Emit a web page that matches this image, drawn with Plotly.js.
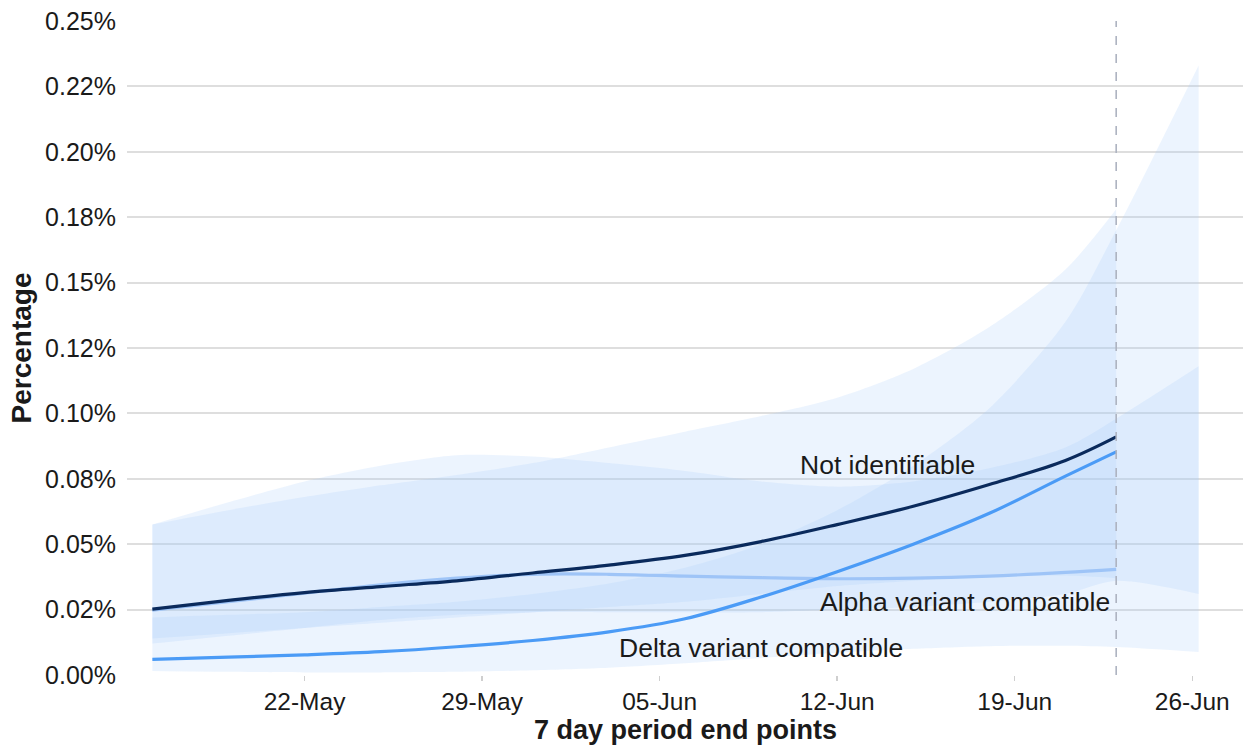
<!DOCTYPE html>
<html>
<head>
<meta charset="utf-8">
<script src="https://cdn.plot.ly/plotly-3.0.1.min.js"></script>
<style>html,body{margin:0;padding:0;background:#fff;}#chart{width:1243px;height:747px;}</style>
</head>
<body>
<div id="chart"></div>
<script>
// ---- data (percent values) ----
var dates = ['2021-05-16','2021-05-19','2021-05-22','2021-05-25','2021-05-28','2021-05-31','2021-06-03','2021-06-06','2021-06-09','2021-06-12','2021-06-15','2021-06-18','2021-06-21','2021-06-23'];
var bandDatesExt = dates.concat(['2021-06-26 06:00']);

var notIdentifiable = [0.0252,0.0285,0.0315,0.0338,0.0360,0.0390,0.0420,0.0457,0.0510,0.0575,0.0645,0.0728,0.0820,0.0910];
var deltaCompat     = [0.0060,0.0068,0.0077,0.0089,0.0108,0.0132,0.0165,0.0215,0.0298,0.0395,0.0500,0.0618,0.0760,0.0853];
var alphaCompat     = [0.0248,0.0280,0.0313,0.0345,0.0370,0.0385,0.0385,0.0378,0.0372,0.0368,0.0370,0.0378,0.0392,0.0404];

var nUpper = [0.0575,0.0630,0.0680,0.0725,0.0765,0.0810,0.0870,0.0930,0.0990,0.1060,0.1170,0.1330,0.1550,0.1780];
var nLower = [0.0140,0.0160,0.0180,0.0200,0.0220,0.0240,0.0260,0.0280,0.0310,0.0340,0.0360,0.0380,0.0380,0.0370];

var dUpper = [0.0220,0.0230,0.0240,0.0260,0.0280,0.0310,0.0350,0.0410,0.0500,0.0630,0.0800,0.1020,0.1350,0.1700,0.2330];
var dLower = [0.0015,0.0012,0.0010,0.0010,0.0012,0.0018,0.0028,0.0045,0.0065,0.0085,0.0100,0.0110,0.0112,0.0107,0.0088];

var aUpper = [0.0575,0.0660,0.0740,0.0800,0.0840,0.0835,0.0810,0.0780,0.0740,0.0720,0.0740,0.0790,0.0870,0.0980,0.1180];
var aLower = [0.0120,0.0150,0.0180,0.0210,0.0230,0.0240,0.0240,0.0240,0.0240,0.0250,0.0260,0.0280,0.0310,0.0360,0.0310];

var yTickVals = [0,0.025,0.05,0.075,0.1,0.125,0.15,0.175,0.2,0.225,0.25];
var yTickText = ['0.00%','0.02%','0.05%','0.08%','0.10%','0.12%','0.15%','0.18%','0.20%','0.22%','0.25%'];
var xTickVals = ['2021-05-22','2021-05-29','2021-06-05','2021-06-12','2021-06-19','2021-06-26'];
var xTickText = ['22-May','29-May','05-Jun','12-Jun','19-Jun','26-Jun'];

var bandFill = 'rgba(165,203,250,0.21)';

function band(x, lo, hi, fill) {
  return [
    {x: x, y: lo, type: 'scatter', mode: 'lines', line: {width: 0, shape: 'spline', smoothing: 0.8}, hoverinfo: 'skip', showlegend: false},
    {x: x, y: hi, type: 'scatter', mode: 'lines', fill: 'tonexty', fillcolor: fill, line: {width: 0, shape: 'spline', smoothing: 0.8}, hoverinfo: 'skip', showlegend: false}
  ];
}

var traces = [].concat(
  band(bandDatesExt, dLower, dUpper, bandFill),
  band(dates, nLower, nUpper, bandFill),
  band(bandDatesExt, aLower, aUpper, bandFill),
  [
    {x: dates, y: alphaCompat, type: 'scatter', mode: 'lines', name: 'Alpha variant compatible', line: {color: '#9ec4f7', width: 3.2, shape: 'spline'}, showlegend: false},
    {x: dates, y: deltaCompat, type: 'scatter', mode: 'lines', name: 'Delta variant compatible', line: {color: '#4b9bf6', width: 3.2, shape: 'spline'}, showlegend: false},
    {x: dates, y: notIdentifiable, type: 'scatter', mode: 'lines', name: 'Not identifiable', line: {color: '#0a2a5c', width: 3.2, shape: 'spline'}, showlegend: false}
  ]
);

var fontFam = 'Liberation Sans, Arial, sans-serif';

var layout = {
  width: 1243, height: 747,
  margin: {l: 127, r: 0, t: 21, b: 72},
  paper_bgcolor: '#ffffff', plot_bgcolor: '#ffffff',
  font: {family: fontFam, size: 24, color: '#1a1a1a'},
  xaxis: {
    type: 'date',
    range: ['2021-05-15', '2021-06-28'],
    tickvals: xTickVals, ticktext: xTickText,
    showgrid: false, zeroline: false, showline: false,
    ticks: 'outside', ticklen: 5, tickwidth: 1.5, tickcolor: '#cfcfcf',
    tickfont: {family: fontFam, size: 24.5, color: '#1a1a1a'},
    title: {text: ''},
    fixedrange: true
  },
  yaxis: {
    range: [0, 0.25],
    tickvals: yTickVals, ticktext: yTickText,
    showgrid: true, gridcolor: '#dedede', gridwidth: 2,
    zeroline: false, showline: false, ticks: '',
    ticklabelstandoff: 10,
    tickfont: {family: fontFam, size: 25, color: '#1a1a1a'},
    title: {text: '<b>Percentage</b>', font: {family: fontFam, size: 28, color: '#1a1a1a'}, standoff: 5},
    fixedrange: true
  },
  shapes: [
    {type: 'line', xref: 'x', yref: 'paper', x0: '2021-06-23', x1: '2021-06-23', y0: 0, y1: 1, layer: 'above',
     line: {color: '#adb3c0', width: 1.6, dash: 'dash'}}
  ],
  annotations: [
    {x: 0.5, y: -0.1085, xref: 'paper', yref: 'paper', xanchor: 'center', yanchor: 'bottom', borderpad: 0, text: '<b>7 day period end points</b>', showarrow: false, font: {family: fontFam, size: 27, color: '#1a1a1a'}},
    {x: '2021-06-14', y: 0.0804, xref: 'x', yref: 'y', text: 'Not identifiable', showarrow: false, font: {family: fontFam, size: 26.5, color: '#1a1a1a'}},
    {x: '2021-06-17 01:00', y: 0.0278, xref: 'x', yref: 'y', text: 'Alpha variant compatible', showarrow: false, font: {family: fontFam, size: 26.5, color: '#1a1a1a'}},
    {x: '2021-06-09', y: 0.0103, xref: 'x', yref: 'y', text: 'Delta variant compatible', showarrow: false, font: {family: fontFam, size: 26.5, color: '#1a1a1a'}}
  ],
  showlegend: false
};

Plotly.newPlot('chart', traces, layout, {displayModeBar: false, staticPlot: true});
</script>
</body>
</html>
